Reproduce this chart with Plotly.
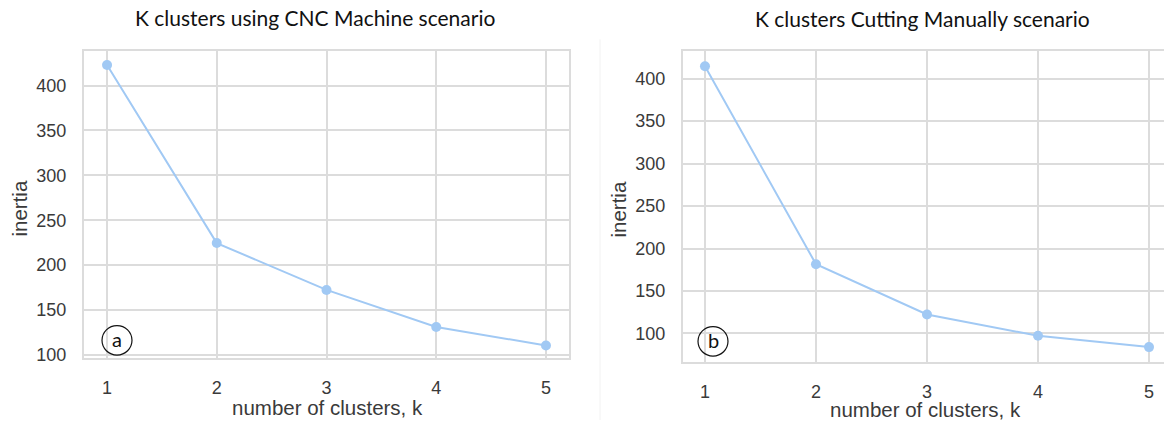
import plotly.graph_objects as go

W, H = 1164, 427

k_values = [1, 2, 3, 4, 5]
inertia_cnc = [423, 224.5, 172.3, 131, 110.4]
inertia_manual = [414.6, 181.5, 122.3, 97.3, 83.9]
y_ticks_left = [100, 150, 200, 250, 300, 350, 400]
y_ticks_right = [100, 150, 200, 250, 300, 350, 400]
titles = ["K clusters using CNC Machine scenario", "K clusters Cutting Manually scenario"]
x_title = "number of clusters, k"
y_title = "inertia"
panel_labels = ["a", "b"]

LINE = "#a1c9f4"
GRID = "#dcdcdc"
TICKC = "#3a3a3a"
TICKFONT = dict(family="Liberation Sans, Arial, sans-serif", size=18, color=TICKC)


def px(x):
    return x / W


def py(y):
    return 1 - y / H


fig = go.Figure()
fig.add_trace(go.Scatter(x=k_values, y=inertia_cnc, mode="lines+markers",
                         line=dict(color=LINE, width=2),
                         marker=dict(color=LINE, size=10),
                         xaxis="x", yaxis="y", showlegend=False))
fig.add_trace(go.Scatter(x=k_values, y=inertia_manual, mode="lines+markers",
                         line=dict(color=LINE, width=2),
                         marker=dict(color=LINE, size=10),
                         xaxis="x2", yaxis="y2", showlegend=False))

common_x = dict(tickmode="array", tickvals=k_values, ticktext=[str(v) for v in k_values],
                showgrid=True, gridcolor=GRID, gridwidth=1.5, zeroline=False,
                showline=True, linecolor=GRID, linewidth=2, mirror=True,
                ticks="", ticklabelstandoff=12, tickfont=TICKFONT)
common_y = dict(showgrid=True, gridcolor=GRID, gridwidth=1.5, zeroline=False,
                showline=True, linecolor=GRID, linewidth=2,
                ticks="", ticklabelstandoff=12, tickfont=TICKFONT)

fig.update_layout(
    width=W, height=H,
    margin=dict(l=0, r=0, t=0, b=0),
    paper_bgcolor="white", plot_bgcolor="white",
    xaxis=dict(domain=[px(84), px(569)], range=[0.79, 5.21], anchor="y", **common_x),
    yaxis=dict(domain=[py(364), py(52)], range=[96.4, 438.4], anchor="x",
               tickvals=y_ticks_left, mirror=True, **common_y),
    xaxis2=dict(domain=[px(683), 1.0], range=[0.802, 5.135], anchor="y2", **common_x),
    yaxis2=dict(domain=[py(368), py(52)], range=[66.4, 432.4], anchor="x2",
                tickvals=y_ticks_right, mirror=False, **common_y),
)

ann = []
TFONT = dict(family="Lato, Open Sans, sans-serif", size=21, color="#111111")
ann.append(dict(text=titles[0], x=px(315), y=py(18), xref="paper", yref="paper",
                showarrow=False, font=TFONT, xanchor="center", yanchor="middle"))
ann.append(dict(text=titles[1], x=px(922), y=py(19), xref="paper", yref="paper",
                showarrow=False, font=TFONT, xanchor="center", yanchor="middle"))
AFONT = dict(family="Liberation Sans, Arial, sans-serif", size=20.5, color=TICKC)
for cx, cy in [(327, 414), (926, 416)]:
    ann.append(dict(text=x_title, x=px(cx), y=py(cy), xref="paper", yref="paper",
                    showarrow=False, font=AFONT, xanchor="center", yanchor="middle"))
for cx, cy in [(20, 212), (619, 213)]:
    ann.append(dict(text=y_title, x=px(cx), y=py(cy), xref="paper", yref="paper",
                    showarrow=False, font=AFONT, textangle=-90,
                    xanchor="center", yanchor="middle"))
LFONT = dict(family="Lato, Open Sans, sans-serif", size=20, color="#111111")
shapes = []
for lab, (cx, cy) in zip(panel_labels, [(117, 346), (713, 347)]):
    ann.append(dict(text=lab, x=px(cx), y=py(cy - 1), xref="paper", yref="paper",
                    showarrow=False, font=LFONT, xanchor="center", yanchor="middle"))
    r = 15
    shapes.append(dict(type="circle", xref="paper", yref="paper",
                       x0=px(cx - r), x1=px(cx + r), y0=py(cy + r), y1=py(cy - r),
                       line=dict(color="#111111", width=1.2), fillcolor="rgba(0,0,0,0)"))
# faint separator line of the right image panel
shapes.append(dict(type="line", xref="paper", yref="paper", x0=px(600), x1=px(600),
                   y0=0, y1=py(40), line=dict(color="#f2f2f2", width=1)))
fig.update_layout(annotations=ann, shapes=shapes)

fig.write_html("out.html")
